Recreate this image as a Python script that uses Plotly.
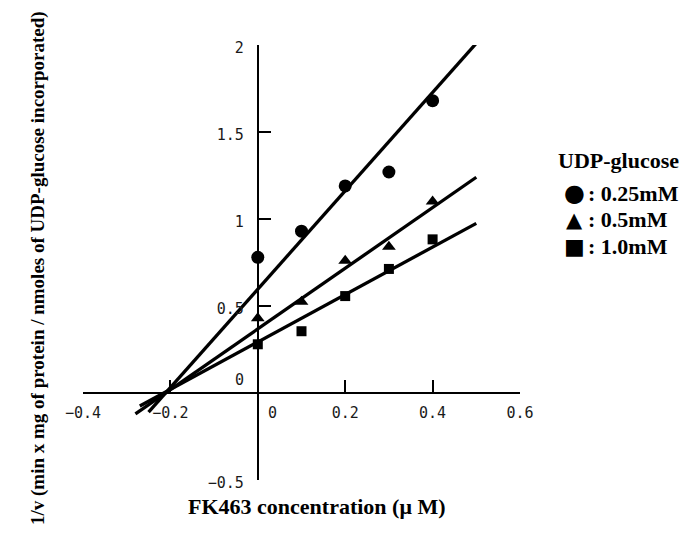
import plotly.graph_objects as go

# ---- data ----
conc = [0.0, 0.1, 0.2, 0.3, 0.4]                 # FK463 concentration (uM)
inv_v_025 = [0.78, 0.93, 1.19, 1.27, 1.68]        # UDP-glucose 0.25 mM
inv_v_05 = [0.43, 0.525, 0.76, 0.84, 1.10]        # UDP-glucose 0.5 mM
inv_v_10 = [0.28, 0.355, 0.557, 0.713, 0.883]     # UDP-glucose 1.0 mM

fit_x_025 = [-0.25, 0.5]
fit_y_025 = [-0.11, 2.01]
fit_x_05 = [-0.28, 0.5]
fit_y_05 = [-0.12, 1.24]
fit_x_10 = [-0.27, 0.5]
fit_y_10 = [-0.075, 0.975]

legend_title = "UDP-glucose"
legend_glyphs = ["\u25cf", "\u25b2", "\u25a0"]
series_names = [": 0.25mM", ": 0.5mM", ": 1.0mM"]

x_tickvals = [-0.4, -0.2, 0.2, 0.4, 0.6]
x_ticktext = ["\u22120.4", "\u22120.2", "0.2", "0.4", "0.6"]
y_tickvals = [-0.5, 0.5, 1, 1.5, 2]
y_ticktext = ["\u22120.5", "0.5", "1", "1.5", "2"]
x_range = [-0.4, 0.6]
y_range = [-0.5, 2.0]

# ---- layout geometry ----
W, H = 696, 541
ML, MR, MT, MB = 83, 176, 45, 61
PW, PH = W - ML - MR, H - MT - MB


def px_x(p):
    return (p - ML) / PW


def px_y(p):
    return (H - MB - p) / PH


tick_font = dict(family="DejaVu Sans Mono", size=15, color="#1a1a1a")
serif_bold = dict(family="Liberation Serif", color="black", weight="bold")

fig = go.Figure()

symbols = ["circle", "triangle-up", "square"]
data_sizes = [13, 12, 10]
ys = [inv_v_025, inv_v_05, inv_v_10]
fits = [(fit_x_025, fit_y_025), (fit_x_05, fit_y_05), (fit_x_10, fit_y_10)]

for (fx, fy) in fits:
    fig.add_trace(go.Scatter(x=fx, y=fy, mode="lines",
                             line=dict(color="black", width=3.3),
                             showlegend=False, hoverinfo="skip"))

for y, sym, sz, nm in zip(ys, symbols, data_sizes, series_names):
    fig.add_trace(go.Scatter(x=conc, y=y, mode="markers", name=nm,
                             marker=dict(symbol=sym, size=sz, color="black"),
                             showlegend=False))

axis_common = dict(showline=True, linewidth=2, linecolor="black",
                   ticks="inside", ticklen=12, tickwidth=2, tickcolor="black",
                   tickfont=tick_font, showgrid=False, zeroline=False,
                   anchor="free")

fig.update_layout(
    width=W, height=H, autosize=False,
    margin=dict(l=ML, r=MR, t=MT, b=MB, autoexpand=False),
    paper_bgcolor="white", plot_bgcolor="white",
    xaxis=dict(range=x_range, tickvals=x_tickvals, ticktext=x_ticktext,
               position=(0 - y_range[0]) / (y_range[1] - y_range[0]),
               ticklabelstandoff=6, **axis_common),
    yaxis=dict(range=y_range, tickvals=y_tickvals, ticktext=y_ticktext,
               position=(0 - x_range[0]) / (x_range[1] - x_range[0]),
               ticklabelstandoff=10, ticklabelshift=3, **axis_common),
    showlegend=False,
)

annotations = [
    dict(x=0, y=0, xref="x", yref="y", text="0", showarrow=False,
         font=tick_font, xshift=-18, yshift=13),
    dict(x=0, y=0, xref="x", yref="y", text="0", showarrow=False,
         font=tick_font, xshift=15, yshift=-20),
    dict(x=px_x(316), y=px_y(521), xref="paper", yref="paper",
         text="FK463 concentration (\u03bc M)", showarrow=False,
         font=dict(size=22, **serif_bold)),
    dict(x=px_x(25), y=px_y(268), xref="paper", yref="paper",
         text="1/v (min x mg of protein / nmoles of UDP-glucose incorporated)",
         textangle=-90, showarrow=False, font=dict(size=19, **serif_bold)),
    dict(x=px_x(556), y=px_y(160), xref="paper", yref="paper",
         xanchor="left", yanchor="middle", text=legend_title, showarrow=False,
         font=dict(size=22, **serif_bold)),
]
row_y = [193, 220, 246]
glyph_sizes = [24, 21, 22]
for g, nm, ry, gs in zip(legend_glyphs, series_names, row_y, glyph_sizes):
    annotations.append(dict(x=px_x(574), y=px_y(ry), xref="paper", yref="paper",
                            xanchor="center", yanchor="middle", text=g,
                            showarrow=False,
                            font=dict(family="DejaVu Sans", size=gs, color="black")))
    annotations.append(dict(x=px_x(586), y=px_y(ry), xref="paper", yref="paper",
                            xanchor="left", yanchor="middle", text=nm,
                            showarrow=False, font=dict(size=22, **serif_bold)))
fig.update_layout(annotations=annotations)

fig.write_html("out.html",
               config={"displayModeBar": False, "staticPlot": True},
               post_script="document.body.style.margin='0px';")
